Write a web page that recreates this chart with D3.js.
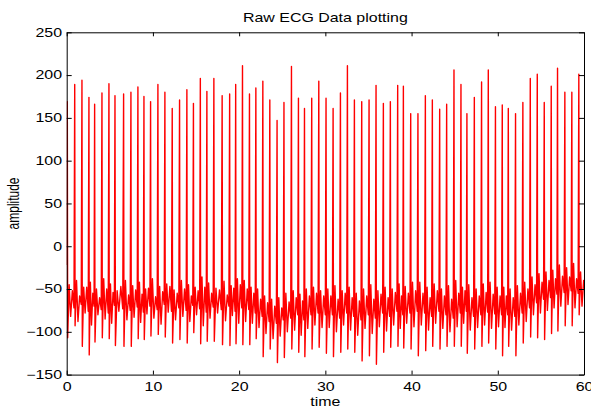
<!DOCTYPE html>
<html>
<head>
<meta charset="utf-8">
<script src="https://cdn.jsdelivr.net/npm/d3@7"></script>
<style>
  body { margin: 0; background: #fff; }
  svg { display: block; }
  text { font-family: "Liberation Sans", Arial, sans-serif; font-size: 12px; fill: #000; }
</style>
</head>
<body>
<svg id="chart" width="591" height="410"></svg>
<script>
// R-peak times (s) and amplitudes
const beatTimes = [0.07, 0.93, 1.77, 2.58, 3.24, 4.09, 4.9, 5.6, 6.6, 7.45,
  8.26, 8.96, 9.73, 10.58, 11.39, 12.24, 13.09, 13.94, 14.7, 15.5,
  16.26, 17.07, 18.03, 18.9, 19.6, 20.39, 21.2, 21.94, 22.75, 23.56,
  24.4, 25.2, 26.07, 26.88, 27.58, 28.42, 29.24, 30.08, 30.9, 31.75,
  32.56, 33.37, 34.22, 35.07, 35.88, 36.73, 37.54, 38.39, 39.05, 39.9,
  40.74, 41.6, 42.41, 43.26, 44.07, 44.92, 45.73, 46.42, 47.28, 48.12,
  48.9, 49.73, 50.52, 51.22, 52.06, 52.91, 53.77, 54.58, 55.39, 56.2,
  56.93, 57.78, 58.59, 59.4];
const peaks = [169, 189, 194, 174, 166, 179, 190, 176, 178, 180,
  186, 175, 169, 189, 180, 161, 171, 183, 167, 196,
  181, 196, 176, 178, 189, 211, 178, 185, 193, 171,
  147, 168, 210, 173, 161, 173, 193, 173, 161, 179,
  211, 171, 169, 171, 188, 167, 169, 188, 187, 155,
  155, 176, 171, 160, 166, 206, 189, 155, 174, 192,
  206, 163, 165, 161, 155, 168, 196, 201, 168, 187,
  208, 180, 180, 201];
// S-wave minimum after each beat
const troughs = [-107, -93, -117, -127, -112, -107, -108, -116, -117, -117,
  -108, -109, -105, -103, -106, -113, -109, -113, -101, -114,
  -111, -111, -115, -116, -114, -115, -115, -108, -129, -120,
  -136, -130, -120, -124, -129, -120, -118, -125, -129, -124,
  -120, -124, -134, -128, -138, -124, -118, -117, -119, -120,
  -128, -122, -117, -120, -117, -117, -117, -125, -120, -117,
  -113, -120, -128, -117, -128, -113, -106, -107, -109, -102,
  -99, -93, -93, -80];
// baseline wiggles between beats (estimated)
const tWave = [-45, -40, -48, -42, -50, -38, -44, -52, -40, -46, -42, -50, -38, -47, -44, -51, -40, -45, -48, -36, -43, -49, -41, -46, -38,
  -40, -48, -50, -58, -62, -60, -55, -52, -56, -50, -48, -52,
  -50, -46, -52, -48, -55, -50, -45, -52, -48, -50, -44, -47, -42,
  -42, -48, -44, -50, -46, -40, -48, -45, -50, -44, -42, -48,
  -48, -50, -46, -42, -36, -32, -30, -28, -22, -25, -20, -30];
const midLow = [-82, -88, -78, -92, -80, -85, -90, -76, -86, -83, -89, -79, -84, -91, -77, -86, -82, -88, -80, -93, -84, -78, -87, -81, -90,
  -88, -90, -95, -102, -108, -105, -100, -98, -104, -96, -92, -95,
  -95, -100, -92, -98, -104, -96, -102, -94, -99, -92, -96, -90, -94,
  -92, -98, -90, -96, -100, -94, -90, -98, -95, -92, -96, -94,
  -95, -98, -92, -88, -80, -78, -75, -72, -70, -68, -72, -70];
const pWave = [-52, -58, -48, -55, -60, -50, -54, -47, -57, -51, -56, -49, -59, -53, -47, -55, -50, -58, -52, -48, -55, -51, -57, -49, -45,
  -50, -55, -62, -66, -70, -72, -65, -60, -64, -58, -55, -58,
  -58, -62, -55, -60, -64, -58, -62, -56, -60, -54, -58, -55, -52,
  -55, -60, -52, -58, -62, -55, -52, -60, -58, -54, -56, -58,
  -58, -60, -55, -50, -45, -42, -40, -38, -35, -36, -38, -40];
const qLow = [-72, -68, -76, -70, -74, -78, -69, -73, -75, -71, -77, -70, -74, -68, -76, -72, -75, -69, -73, -77, -71, -74, -70, -76, -72,
  -74, -78, -82, -88, -90, -86, -84, -80, -86, -80, -78, -80,
  -80, -84, -78, -82, -86, -80, -84, -78, -82, -76, -80, -78, -76,
  -78, -82, -76, -80, -84, -78, -76, -82, -80, -77, -79, -80,
  -80, -82, -78, -72, -66, -62, -60, -56, -54, -52, -55, -55];
const startValue = -22;

const xTicks = [0, 10, 20, 30, 40, 50, 60];
const yTicks = [-150, -100, -50, 0, 50, 100, 150, 200, 250];

const width = 591, height = 410;
const margin = { top: 32.3, right: 7, bottom: 35.4, left: 66.7 };
const stretch = 1.33; // the reference text is wider than it is tall

const x = d3.scaleLinear().domain([0, 60]).range([margin.left, width - margin.right]);
const y = d3.scaleLinear().domain([-150, 250]).range([height - margin.bottom, margin.top]);

// build the trace: peak, S trough, then the baseline wiggles up to the next beat
const points = [[0, startValue]];
beatTimes.forEach((t, i) => {
  const next = i < beatTimes.length - 1 ? beatTimes[i + 1] : t + 0.82;
  const rr = next - t;
  points.push([t, peaks[i]]);
  points.push([t + 0.05 * rr, troughs[i]]);
  points.push([t + 0.25 * rr, tWave[i]]);
  points.push([t + 0.45 * rr, midLow[i]]);
  points.push([t + 0.68 * rr, pWave[i]]);
  points.push([t + 0.9 * rr, qLow[i]]);
});

const svg = d3.select('#chart');

svg.append('clipPath').attr('id', 'plot-clip')
  .append('rect')
  .attr('x', x(0)).attr('y', y(250))
  .attr('width', x(60) - x(0)).attr('height', y(-150) - y(250));

svg.append('path')
  .datum(points)
  .attr('clip-path', 'url(#plot-clip)')
  .attr('fill', 'none')
  .attr('stroke', '#ff0000')
  .attr('stroke-width', 1.4)
  .attr('stroke-linejoin', 'round')
  .attr('d', d3.line().x(d => x(d[0])).y(d => y(d[1])));

// box with inward ticks on all four sides, matlab style
const stretchText = g => g.selectAll('text')
  .attr('transform', `scale(${stretch},1)`)
  .style('font-size', '12px')
  .style('font-family', '"Liberation Sans", Arial, sans-serif');

svg.append('g')
  .attr('transform', `translate(0,${y(-150)})`)
  .call(d3.axisBottom(x).tickValues(xTicks).tickSize(-4).tickPadding(8).tickSizeOuter(0))
  .call(stretchText);

svg.append('g')
  .attr('transform', `translate(0,${y(250)})`)
  .call(d3.axisTop(x).tickValues(xTicks).tickSize(-4).tickFormat('').tickSizeOuter(0));

svg.append('g')
  .attr('transform', `translate(${x(0)},0)`)
  .call(d3.axisLeft(y).tickValues(yTicks).tickSize(-5).tickPadding(3.5).tickSizeOuter(0))
  .call(stretchText);

svg.append('g')
  .attr('transform', `translate(${x(60)},0)`)
  .call(d3.axisRight(y).tickValues(yTicks).tickSize(-5).tickFormat('').tickSizeOuter(0));

svg.selectAll('.domain').attr('stroke', '#000');
svg.selectAll('.tick line').attr('stroke', '#000');

svg.append('text')
  .attr('transform', `translate(${(x(0) + x(60)) / 2},22) scale(${stretch},1)`)
  .attr('text-anchor', 'middle')
  .text('Raw ECG Data plotting');

svg.append('text')
  .attr('transform', `translate(${(x(0) + x(60)) / 2},406) scale(${stretch},1)`)
  .attr('text-anchor', 'middle')
  .text('time');

svg.append('text')
  .attr('transform', `translate(19,${(y(-150) + y(250)) / 2}) rotate(-90) scale(1,${stretch})`)
  .attr('text-anchor', 'middle')
  .text('amplitude');
</script>
</body>
</html>
